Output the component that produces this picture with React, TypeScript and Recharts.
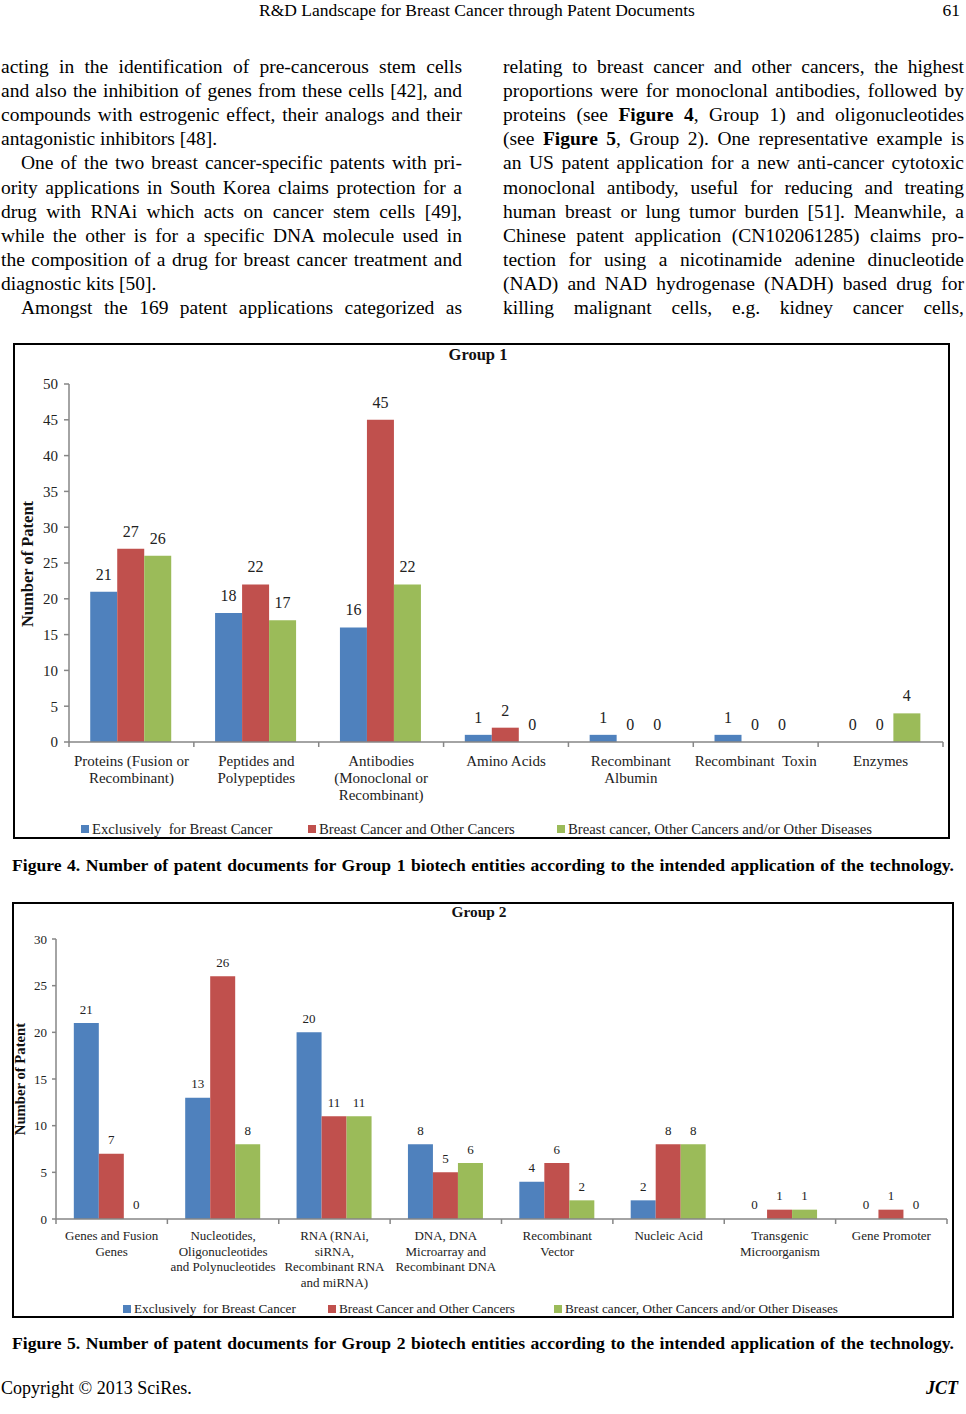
import React from 'react';
import { BarChart, Bar, XAxis, YAxis, LabelList } from 'recharts';

const SERIF = "'Liberation Serif', 'Times New Roman', serif";

const seriesNames = [
  'Exclusively  for Breast Cancer',
  'Breast Cancer and Other Cancers',
  'Breast cancer, Other Cancers and/or Other Diseases',
];
const seriesKeys = ['exclusive', 'other', 'diseases'];
const seriesColors = ['#4F81BD', '#C0504D', '#9BBB59'];

const group1Categories = [
  'Proteins (Fusion or\nRecombinant)',
  'Peptides and\nPolypeptides',
  'Antibodies\n(Monoclonal or\nRecombinant)',
  'Amino Acids',
  'Recombinant\nAlbumin',
  'Recombinant  Toxin',
  'Enzymes',
];
const group1Exclusive = [21, 18, 16, 1, 1, 1, 0];
const group1Other = [27, 22, 45, 2, 0, 0, 0];
const group1Diseases = [26, 17, 22, 0, 0, 0, 4];
const group1Ticks = [0, 5, 10, 15, 20, 25, 30, 35, 40, 45, 50];

const group2Categories = [
  'Genes and Fusion\nGenes',
  'Nucleotides,\nOligonucleotides\nand Polynucleotides',
  'RNA (RNAi,\nsiRNA,\nRecombinant RNA\nand miRNA)',
  'DNA, DNA\nMicroarray and\nRecombinant DNA',
  'Recombinant\nVector',
  'Nucleic Acid',
  'Transgenic\nMicroorganism',
  'Gene Promoter',
];
const group2Exclusive = [21, 13, 20, 8, 4, 2, 0, 0];
const group2Other = [7, 26, 11, 5, 6, 8, 1, 1];
const group2Diseases = [0, 8, 11, 6, 2, 8, 1, 0];
const group2Ticks = [0, 5, 10, 15, 20, 25, 30];

const group1Data = group1Categories.map((c, i) => ({
  category: c,
  exclusive: group1Exclusive[i],
  other: group1Other[i],
  diseases: group1Diseases[i],
}));
const group2Data = group2Categories.map((c, i) => ({
  category: c,
  exclusive: group2Exclusive[i],
  other: group2Other[i],
  diseases: group2Diseases[i],
}));

const leftLines: { t: React.ReactNode; last?: boolean; indent?: boolean }[] = [
  { t: 'acting in the identification of pre-cancerous stem cells' },
  { t: 'and also the inhibition of genes from these cells [42], and' },
  { t: 'compounds with estrogenic effect, their analogs and their' },
  { t: 'antagonistic inhibitors [48].', last: true },
  { t: 'One of the two breast cancer-specific patents with pri-', indent: true },
  { t: 'ority applications in South Korea claims protection for a' },
  { t: 'drug with RNAi which acts on cancer stem cells [49],' },
  { t: 'while the other is for a specific DNA molecule used in' },
  { t: 'the composition of a drug for breast cancer treatment and' },
  { t: 'diagnostic kits [50].', last: true },
  { t: 'Amongst the 169 patent applications categorized as', indent: true },
];
const rightLines: { t: React.ReactNode; last?: boolean; indent?: boolean }[] = [
  { t: 'relating to breast cancer and other cancers, the highest' },
  { t: 'proportions were for monoclonal antibodies, followed by' },
  { t: <>proteins (see <b>Figure 4</b>, Group 1) and oligonucleotides</> },
  { t: <>(see <b>Figure 5</b>, Group 2). One representative example is</> },
  { t: 'an US patent application for a new anti-cancer cytotoxic' },
  { t: 'monoclonal antibody, useful for reducing and treating' },
  { t: 'human breast or lung tumor burden [51]. Meanwhile, a' },
  { t: 'Chinese patent application (CN102061285) claims pro-' },
  { t: 'tection for using a nicotinamide adenine dinucleotide' },
  { t: '(NAD) and NAD hydrogenase (NADH) based drug for' },
  { t: 'killing malignant cells, e.g. kidney cancer cells,' },
];

const TextColumn = ({ lines, left, width }: any) => (
  <>
    {lines.map((l: any, i: number) => (
      <div
        key={i}
        style={{
          position: 'absolute',
          left: left + (l.indent ? 20 : 0),
          top: 55 + i * 24.1,
          width: width - (l.indent ? 20 : 0),
          height: 24,
          lineHeight: '24px',
          fontFamily: SERIF,
          fontSize: 19.5,
          color: '#000',
          textAlign: l.last ? 'left' : 'justify',
          textAlignLast: l.last ? 'left' : 'justify',
          whiteSpace: 'nowrap',
        } as React.CSSProperties}
      >
        {l.t}
      </div>
    ))}
  </>
);

const makeTick = (fontSize: number, lineHeight: number, firstDy: number, count: number, color: string) =>
  (props: any) => {
    const { x, y, payload, index } = props;
    const half = payload && typeof payload.offset === 'number' && payload.offset > 0 ? payload.offset : 0;
    const lines = String(payload.value).split('\n');
    return (
      <g>
        <line x1={x - half} x2={x - half} y1={y} y2={y + 5} stroke="#868686" strokeWidth={1.5} />
        {index === count - 1 && (
          <line x1={x + half} x2={x + half} y1={y} y2={y + 5} stroke="#868686" strokeWidth={1.5} />
        )}
        <text x={x} y={y + firstDy} textAnchor="middle" fontFamily={SERIF} fontSize={fontSize} fill={color}>
          {lines.map((ln, i) => (
            <tspan key={i} x={x} dy={i === 0 ? 0 : lineHeight} style={{ whiteSpace: 'pre' }}>
              {ln}
            </tspan>
          ))}
        </text>
      </g>
    );
  };

const makeValueLabel = (fontSize: number, offset: number) => (props: any) => {
  const { x, y, width, value } = props;
  return (
    <text
      x={Number(x) + Number(width) / 2}
      y={Number(y) - offset}
      textAnchor="middle"
      fontFamily={SERIF}
      fontSize={fontSize}
      fill="#222"
    >
      {String(value)}
    </text>
  );
};

const ChartBox = ({
  box, title, titleY, titleX, data, ticks, yMax, yAxisWidth, margin, xAxisHeight, gapPct,
  tickFont, tickLineH, tickFirstDy, yTickFont, yTickSize, yTickMargin, labelFont, labelOffset,
  axisTitle, axisTitleX, axisTitleY, axisTitleFont, legendY, legendXs, legendFont, titleFont,
}: any) => {
  const Tick = makeTick(tickFont, tickLineH, tickFirstDy, data.length, '#222');
  const ValueLabel = makeValueLabel(labelFont, labelOffset);
  return (
    <>
      <div
        style={{
          position: 'absolute',
          left: box.x,
          top: box.y,
          width: box.w,
          height: box.h,
          border: '2px solid #000',
          boxSizing: 'border-box',
        }}
      />
      <div style={{ position: 'absolute', left: box.x, top: box.y }}>
        <BarChart
          width={box.w}
          height={box.h}
          data={data}
          margin={margin}
          barCategoryGap={gapPct}
          barGap={0}
        >
          <XAxis
            dataKey="category"
            interval={0}
            height={xAxisHeight}
            tickLine={false}
            tickSize={0}
            tickMargin={0}
            axisLine={{ stroke: '#868686', strokeWidth: 1.5 }}
            tick={<Tick />}
          />
          <YAxis
            domain={[0, yMax]}
            ticks={ticks}
            interval={0}
            width={yAxisWidth}
            tickSize={yTickSize}
            tickMargin={yTickMargin}
            axisLine={{ stroke: '#868686', strokeWidth: 1.5 }}
            tickLine={{ stroke: '#868686', strokeWidth: 1.5 }}
            tick={{ fontFamily: SERIF, fontSize: yTickFont, fill: '#222' }}
          />
          {seriesKeys.map((k, i) => (
            <Bar
              key={k}
              dataKey={k}
              name={seriesNames[i]}
              fill={seriesColors[i]}
              minPointSize={0.001}
              isAnimationActive={false}
            >
              <LabelList
                valueAccessor={(entry: any) => String(entry && entry.payload ? entry.payload[k] : entry.value)}
                content={<ValueLabel />}
              />
            </Bar>
          ))}
        </BarChart>
      </div>
      <div
        style={{
          position: 'absolute',
          left: titleX - 100,
          width: 200,
          top: titleY - 10,
          height: 20,
          lineHeight: '20px',
          textAlign: 'center',
          fontFamily: SERIF,
          fontWeight: 'bold',
          fontSize: titleFont,
          color: '#111',
        }}
      >
        {title}
      </div>
      <div
        style={{
          position: 'absolute',
          left: axisTitleX - 100,
          top: axisTitleY - 10,
          width: 200,
          height: 20,
          lineHeight: '20px',
          textAlign: 'center',
          transform: 'rotate(-90deg)',
          fontFamily: SERIF,
          fontWeight: 'bold',
          fontSize: axisTitleFont,
          color: '#111',
        }}
      >
        {axisTitle}
      </div>
      {seriesNames.map((n, i) => (
        <div
          key={n}
          style={{
            position: 'absolute',
            left: legendXs[i],
            top: legendY - 9,
            height: 18,
            lineHeight: '18px',
            fontFamily: SERIF,
            fontSize: legendFont,
            color: '#222',
            whiteSpace: 'pre',
            display: 'flex',
            alignItems: 'center',
          }}
        >
          <span
            style={{
              display: 'inline-block',
              width: 8,
              height: 8,
              background: seriesColors[i],
              marginRight: 3,
            }}
          />
          {n}
        </div>
      ))}
    </>
  );
};

const captionStyle: React.CSSProperties = {
  position: 'absolute',
  left: 12,
  width: 942,
  height: 24,
  lineHeight: '24px',
  fontFamily: SERIF,
  fontWeight: 'bold',
  fontSize: 17.6,
  whiteSpace: 'nowrap',
  textAlign: 'justify',
  textAlignLast: 'justify',
} as React.CSSProperties;

export default function App() {
  return (
    <div
      style={{
        position: 'absolute',
        left: 0,
        top: 0,
        width: 966,
        height: 1414,
        background: '#fff',
        overflow: 'hidden',
        fontFamily: SERIF,
      }}
    >
      <div
        style={{
          position: 'absolute',
          left: 259,
          top: 0,
          height: 20,
          lineHeight: '20px',
          fontFamily: SERIF,
          fontSize: 17.5,
          whiteSpace: 'nowrap',
        }}
      >
        R&amp;D Landscape for Breast Cancer through Patent Documents
      </div>
      <div
        style={{
          position: 'absolute',
          right: 6,
          top: 0,
          height: 20,
          lineHeight: '20px',
          fontFamily: SERIF,
          fontSize: 17.5,
        }}
      >
        61
      </div>

      <TextColumn lines={leftLines} left={1} width={461} />
      <TextColumn lines={rightLines} left={503} width={461} />

      <ChartBox
        box={{ x: 13, y: 343, w: 937, h: 496 }}
        title="Group 1"
        titleX={478}
        titleY={355}
        titleFont={16.5}
        data={group1Data}
        ticks={group1Ticks}
        yMax={50}
        yAxisWidth={56}
        margin={{ top: 41, right: 7, bottom: 37, left: 0 }}
        xAxisHeight={60}
        gapPct="17%"
        tickFont={15}
        tickLineH={17}
        tickFirstDy={24}
        yTickFont={15}
        yTickSize={5}
        yTickMargin={6}
        labelFont={16}
        labelOffset={12}
        axisTitle="Number of Patent"
        axisTitleX={28}
        axisTitleY={564}
        axisTitleFont={16.5}
        legendY={829}
        legendXs={[81, 308, 557]}
        legendFont={14.7}
      />
      <div style={{ ...captionStyle, top: 853 }}>
        Figure 4. Number of patent documents for Group 1 biotech entities according to the intended application of the technology.
      </div>

      <ChartBox
        box={{ x: 12, y: 902, w: 942, h: 416 }}
        title="Group 2"
        titleX={479}
        titleY={912}
        titleFont={15.4}
        data={group2Data}
        ticks={group2Ticks}
        yMax={30}
        yAxisWidth={44}
        margin={{ top: 37, right: 7, bottom: 29, left: 0 }}
        xAxisHeight={70}
        gapPct="16%"
        tickFont={13}
        tickLineH={15.5}
        tickFirstDy={21}
        yTickFont={13}
        yTickSize={4}
        yTickMargin={5}
        labelFont={13}
        labelOffset={9.5}
        axisTitle="Number of Patent"
        axisTitleX={20}
        axisTitleY={1079}
        axisTitleFont={14.7}
        legendY={1309}
        legendXs={[123, 328, 554]}
        legendFont={13.2}
      />
      <div style={{ ...captionStyle, top: 1331 }}>
        Figure 5. Number of patent documents for Group 2 biotech entities according to the intended application of the technology.
      </div>

      <div
        style={{
          position: 'absolute',
          left: 1,
          top: 1376,
          height: 24,
          lineHeight: '24px',
          fontFamily: SERIF,
          fontSize: 18,
          whiteSpace: 'nowrap',
        }}
      >
        Copyright © 2013 SciRes.
      </div>
      <div
        style={{
          position: 'absolute',
          right: 8,
          top: 1376,
          height: 24,
          lineHeight: '24px',
          fontFamily: SERIF,
          fontSize: 18,
          fontWeight: 'bold',
          fontStyle: 'italic',
        }}
      >
        JCT
      </div>
    </div>
  );
}
